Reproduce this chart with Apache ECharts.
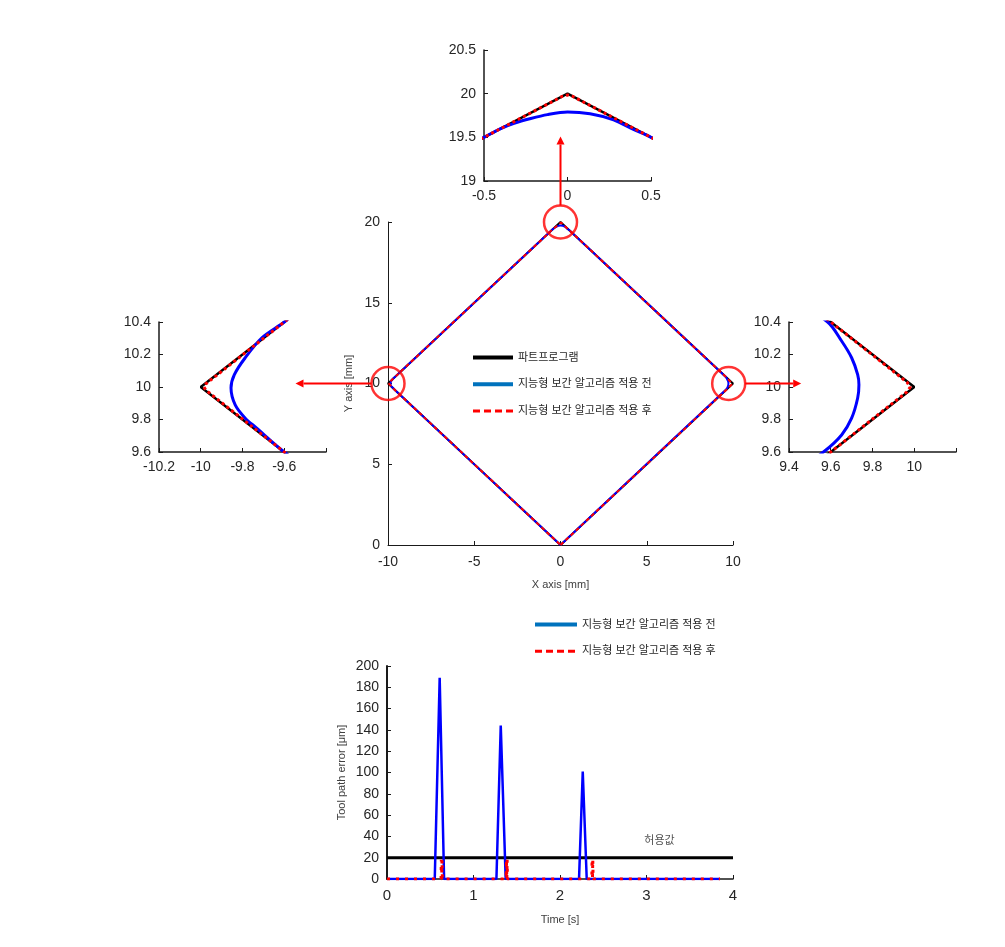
<!DOCTYPE html>
<html><head><meta charset="utf-8">
<script src="https://cdn.jsdelivr.net/npm/echarts@6/dist/echarts.min.js"></script>
<style>html,body{margin:0;padding:0;background:#fff}#c{width:1005px;height:947px}</style>
</head><body><div id="c"></div><script>
// ---------- data ----------
const NAME_PROG = '파트프로그램';
const NAME_BEFORE = '지능형 보간 알고리즘 적용 전';
const NAME_AFTER = '지능형 보간 알고리즘 적용 후';

const pathProgram = [[0,0],[10,10],[0,20],[-10,10],[0,0]];
// corner details
const beforeRight = [[9.568,9.603],[9.652,9.705],[9.70,9.808],[9.729,9.932],[9.735,10.014],[9.729,10.076],[9.70,10.18],[9.652,10.283],[9.585,10.40]];
const beforeTop = [[0.5,19.5],[0.395,19.59],[0.276,19.70],[0.135,19.77],[0,19.79],[-0.12,19.76],[-0.22,19.715],[-0.32,19.66],[-0.4,19.6],[-0.5,19.5]];
const beforeLeft = [[-9.6,10.4],[-9.707,10.303],[-9.787,10.18],[-9.839,10.076],[-9.855,9.994],[-9.835,9.89],[-9.787,9.808],[-9.735,9.75],[-9.6,9.6]];
const afterRight = [[9.6,9.6],[9.965,9.97],[9.981,10.0],[9.965,10.03],[9.6,10.4]];
const afterTop = [[0.5,19.5],[0.03,19.97],[0,19.985],[-0.03,19.97],[-0.5,19.5]];
const afterLeft = [[-9.6,10.4],[-9.975,10.02],[-9.985,10.0],[-9.975,9.98],[-9.6,9.6]];

const zoomCircles = [[0,20],[-10,10],[9.75,10]];

const timeBefore = [0,0.552,0.609,0.66,1.265,1.315,1.372,2.22,2.263,2.309,3.85];
const errBefore  = [0,0,189,0,0,144,0,0,101,0,0];
const timeAfter = [0,0.625,0.628,0.632,0.636,0.64,1.378,1.381,1.385,1.389,1.393,2.368,2.371,2.375,2.379,2.383,3.85];
const errAfter  = [0,0,18,0,18,0,0,18,0,18,0,0,18,0,18,0,0];
const tolerance = 20;
const timeRange = [0,4];
const toleranceLabel = [[3.15,36,'허용값']];

// ---------- build ----------
const pathBefore = [[0,0]].concat(beforeRight, beforeTop, beforeLeft, [[0,0]]);
const pathAfter = [[0,0]].concat(afterRight, afterTop, afterLeft, [[0,0]]);
const zip = (a,b) => a.map((v,i)=>[v,b[i]]);

const FONT = 'Arial, "Liberation Sans", "Noto Sans CJK KR", sans-serif';
const TXT = '#262626';

function axis(o){
  return Object.assign({
    type:'value', splitLine:{show:false},
    axisLine:{show:true, onZero:false, lineStyle:{color:'#1a1a1a', width:o.lw||1.5}},
    axisTick:{show:true, inside:true, length:4, lineStyle:{color:'#1a1a1a', width:1}},
    axisLabel:{color:TXT, fontSize:o.fs||14, fontFamily:FONT, margin:o.mg||8, hideOverlap:false, showMinLabel:true, showMaxLabel:true},
    nameTextStyle:{color:'#404040', fontSize:11, fontFamily:FONT}
  }, o.extra||{});
}

const grids = [
  {left:388, top:222, width:345, height:323},  // main
  {left:484, top:50, width:167, height:131},   // top inset
  {left:159, top:322, width:167, height:130},  // left inset
  {left:789, top:322, width:167, height:130},  // right inset
  {left:387, top:666, width:346, height:213}   // error
];

const xAxes = [
  axis({lw:1, mg:10, extra:{gridIndex:0, min:-10, max:10, interval:5, name:'X axis [mm]', nameLocation:'middle', nameGap:34}}),
  axis({extra:{gridIndex:1, min:-0.5, max:0.5, interval:0.5}}),
  axis({extra:{gridIndex:2, min:-10.2, max:-9.4, interval:0.2}}),
  axis({extra:{gridIndex:3, min:9.4, max:10.2, interval:0.2}}),
  axis({lw:1.5, fs:15, mg:9, extra:{gridIndex:4, min:timeRange[0], max:timeRange[1], interval:1, name:'Time [s]', nameLocation:'middle', nameGap:35}})
];
xAxes[2].axisLabel.formatter = v => (v > -9.5 ? '' : String(+v.toFixed(1)));
xAxes[3].axisLabel.formatter = v => (v > 10.1 ? '' : String(+v.toFixed(1)));

const yAxes = [
  axis({lw:1, extra:{gridIndex:0, min:0, max:20, interval:5, name:'Y axis [mm]', nameLocation:'middle', nameGap:34}}),
  axis({extra:{gridIndex:1, min:19, max:20.5, interval:0.5}}),
  axis({extra:{gridIndex:2, min:9.6, max:10.4, interval:0.2}}),
  axis({extra:{gridIndex:3, min:9.6, max:10.4, interval:0.2}}),
  axis({lw:2, extra:{gridIndex:4, min:0, max:200, interval:20, name:'Tool path error [μm]', nameLocation:'middle', nameGap:40}})
];

const series = [];
for (let g=0; g<4; g++){
  const main = g===0;
  series.push({name:NAME_PROG, type:'line', xAxisIndex:g, yAxisIndex:g, data:pathProgram, symbol:'none', silent:true,
    lineStyle:{color:'#000000', width: main?2:2.5}, z:2});
  series.push({name:NAME_BEFORE, type:'line', xAxisIndex:g, yAxisIndex:g, data:pathBefore, symbol:'none', silent:true, smooth:0.3,
    lineStyle:{color:'#0000FF', width: main?2:3}, z:3});
  series.push({name:NAME_AFTER, type:'line', xAxisIndex:g, yAxisIndex:g, data:pathAfter, symbol:'none', silent:true,
    lineStyle:{color:'#FF0000', width: main?2:3, type: main?[4,3]:[3,3]}, z:4});
}
series.push({type:'scatter', xAxisIndex:0, yAxisIndex:0, data:zoomCircles, symbol:'circle', symbolSize:33, silent:true,
  itemStyle:{color:'rgba(0,0,0,0)', borderColor:'#FF0000', borderWidth:2.5}, z:10});
// error chart
series.push({name:'허용', type:'line', xAxisIndex:4, yAxisIndex:4, data:[[timeRange[0],tolerance],[timeRange[1],tolerance]], symbol:'none', silent:true,
  lineStyle:{color:'#000000', width:3}, z:2});
series.push({name:NAME_BEFORE, type:'line', xAxisIndex:4, yAxisIndex:4, data:zip(timeBefore,errBefore), symbol:'none', silent:true,
  lineStyle:{color:'#0000FF', width:2.5}, z:3});
series.push({name:NAME_AFTER, type:'line', xAxisIndex:4, yAxisIndex:4, data:zip(timeAfter,errAfter), symbol:'none', silent:true,
  lineStyle:{color:'#FF0000', width:3, type:[3,6]}, z:4});
series.push({type:'scatter', xAxisIndex:4, yAxisIndex:4, data:toleranceLabel, symbolSize:1, silent:true,
  itemStyle:{color:'rgba(0,0,0,0)'},
  label:{show:true, position:'inside', formatter:p=>p.data[2], color:TXT, fontSize:11, fontFamily:FONT}, z:5});

const legendText = {color:TXT, fontSize:11, fontFamily:FONT};
const noSym = {color:'rgba(0,0,0,0)', borderColor:'rgba(0,0,0,0)', borderWidth:0, opacity:0};
const legProg = {name:NAME_PROG, itemStyle:noSym, lineStyle:{color:'#000', width:4, type:'solid'}};
const legBefore = {name:NAME_BEFORE, itemStyle:noSym, lineStyle:{color:'#0072BD', width:4, type:'solid'}};
const legAfter = {name:NAME_AFTER, itemStyle:noSym, lineStyle:{color:'#FF0000', width:3, type:[7,4]}};
const option = {
  animation:false,
  backgroundColor:'#ffffff',
  textStyle:{fontFamily:FONT},
  grid:grids, xAxis:xAxes, yAxis:yAxes, series:series,
  legend:[
    {orient:'vertical', left:471, top:352, padding:0, itemWidth:40, itemHeight:14, itemGap:15.5, selectedMode:false, textStyle:legendText,
      data:[legProg, legBefore, legAfter]},
    {orient:'vertical', left:533, top:619, padding:0, itemWidth:42, itemHeight:14, itemGap:15.5, selectedMode:false, textStyle:legendText,
      data:[legBefore, legAfter]}
  ]
};

const chart = echarts.init(document.getElementById('c'), null, {renderer:'canvas'});
chart.setOption(option);

// arrows from the circles toward the insets
const R = 16.5, AH = 8, AW = 4;
const ARROW_LEN = {top:69, left:76, right:56};
function arrow(x1,y1,x2,y2){
  const dx=x2-x1, dy=y2-y1, L=Math.hypot(dx,dy), ux=dx/L, uy=dy/L;
  const bx=x2-ux*AH, by=y2-uy*AH;
  return [
    {type:'line', shape:{x1:x1,y1:y1,x2:bx,y2:by}, style:{stroke:'#FF0000', lineWidth:2}, silent:true, z:20},
    {type:'polygon', shape:{points:[[x2,y2],[bx-uy*AW,by+ux*AW],[bx+uy*AW,by-ux*AW]]}, style:{fill:'#FF0000'}, silent:true, z:20}
  ];
}
const cT = chart.convertToPixel({gridIndex:0}, zoomCircles[0]);
const cL = chart.convertToPixel({gridIndex:0}, zoomCircles[1]);
const cR = chart.convertToPixel({gridIndex:0}, zoomCircles[2]);
const graphics = [].concat(
  arrow(cT[0], cT[1]-R, cT[0], cT[1]-R-ARROW_LEN.top),
  arrow(cL[0]-R, cL[1], cL[0]-R-ARROW_LEN.left, cL[1]),
  arrow(cR[0]+R, cR[1], cR[0]+R+ARROW_LEN.right, cR[1])
);
chart.setOption({graphic:graphics});
</script></body></html>
